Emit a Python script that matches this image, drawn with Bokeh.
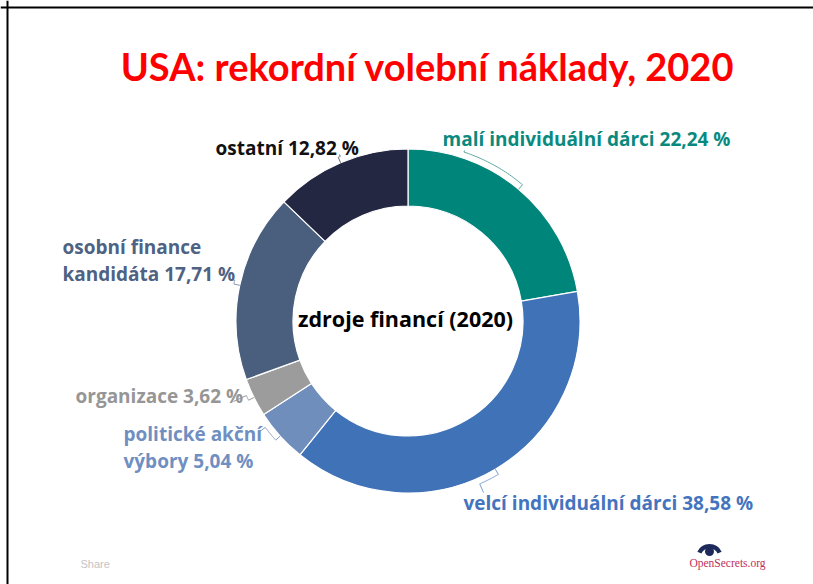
import numpy as np
from bokeh.plotting import figure
from bokeh.models import ColumnDataSource, Span, Range1d
from bokeh.core.properties import value
from bokeh.embed import file_html
from bokeh.resources import INLINE

# ---------------- data ----------------
title_text = "USA: rekordní volební náklady, 2020"
center_text = "zdroje financí (2020)"
categories = ["malí individuální dárci", "velcí individuální dárci", "politické akční výbory",
              "organizace", "osobní finance kandidáta", "ostatní"]
shares = [22.24, 38.58, 5.04, 3.62, 17.71, 12.82]
label_first_lines = ["", "", "politické akční", "", "osobní finance", ""]
label_last_prefix = ["malí individuální dárci", "velcí individuální dárci", "výbory",
                     "organizace", "kandidáta", "ostatní"]
seg_colors = ["#00857a", "#4072b8", "#6f8ebc", "#9c9c9c", "#4a5e7e", "#232742"]
lab_colors = ["#0a8a7e", "#4474be", "#6f8fc2", "#969696", "#4e6283", "#111111"]
lead_colors = ["#5fa8a0", "#7d9cc9", "#8a9cbc", "#9a9a9a", "#8a96aa", "#666a7a"]

# ---------------- layout ----------------
W, H = 813, 584
def X(px): return px
def Y(py): return H - py

cx, cy = X(407.5), Y(320.5)
r_in, r_out = 115, 172
lab_left = [442, 463, 123, 75, 62, 215]
lab_y = [138, 502, 460, 395, 273, 147]
line_gap = 27
attach = [(464, 150), (483, 492), (258, 432), (233, 401), (231, 279), (339, 154)]

fr = np.array(shares) / sum(shares)
ends = np.cumsum(fr)
starts = ends - fr
ang = lambda f: np.pi / 2 - 2 * np.pi * f
start_angle = ang(ends)
end_angle = ang(starts)
mid_angle = ang((starts + ends) / 2)

p = figure(width=W, height=H, x_range=Range1d(0, W), y_range=Range1d(0, H),
           output_backend="svg", toolbar_location=None, min_border=0)
p.axis.visible = False
p.grid.visible = False
p.outline_line_color = None
p.background_fill_color = "white"
p.border_fill_color = "white"

# frame (left + top)
p.add_layout(Span(location=7, dimension="height", line_color="black", line_width=2))
p.add_layout(Span(location=H - 7, dimension="width", line_color="black", line_width=2))

src = ColumnDataSource(dict(cat=categories, share=shares, color=seg_colors,
                            sa=start_angle, ea=end_angle))
p.annular_wedge(x=cx, y=cy, inner_radius=r_in, outer_radius=r_out, start_angle="sa",
                end_angle="ea", direction="anticlock", fill_color="color",
                line_color="white", line_width=1.2, source=src)

# leader lines
xs, ys = [], []
gap = 6
for i in range(len(shares)):
    ax, ay = X(attach[i][0]), Y(attach[i][1])
    a_lab = np.arctan2(ay - cy, ax - cx)
    a_mid = mid_angle[i]
    while a_mid - a_lab > np.pi: a_mid -= 2 * np.pi
    while a_lab - a_mid > np.pi: a_mid += 2 * np.pi
    arc = np.linspace(a_lab, a_mid, 30)
    rr = r_out + gap
    px_ = [ax] + list(cx + rr * np.cos(arc)) + [cx + r_out * np.cos(a_mid)]
    py_ = [ay] + list(cy + rr * np.sin(arc)) + [cy + r_out * np.sin(a_mid)]
    xs.append(px_); ys.append(py_)
p.multi_line(xs=xs, ys=ys, line_color=lead_colors, line_width=1)

# labels
tx, ty, tt, tc = [], [], [], []
for i in range(len(shares)):
    pct = f"{shares[i]:.2f}".replace(".", ",") + " %"
    last = label_last_prefix[i] + " " + pct
    if label_first_lines[i]:
        tx.append(X(lab_left[i])); ty.append(Y(lab_y[i] - line_gap))
        tt.append(label_first_lines[i]); tc.append(lab_colors[i])
    tx.append(X(lab_left[i])); ty.append(Y(lab_y[i])); tt.append(last); tc.append(lab_colors[i])
p.text(x=tx, y=ty, text=tt, text_color=tc, text_align="left", text_baseline="middle",
       text_font=value("Open Sans"), text_font_style="bold", text_font_size="19px")

# title and centre text
p.text(x=[X(427)], y=[Y(65)], text=[title_text], text_color="#ff0000", text_align="center",
       text_baseline="middle", text_font=value("Lato"),
       text_font_style="bold", text_font_size="38px")
p.text(x=[X(405)], y=[Y(318)], text=[center_text], text_color="#000000", text_align="center",
       text_baseline="middle", text_font=value("Open Sans"), text_font_style="bold",
       text_font_size="21.5px")

# footer
p.text(x=[X(80)], y=[Y(563)], text=["Share"], text_color="#c4c4c4", text_align="left",
       text_baseline="middle", text_font=value("Liberation Sans"), text_font_size="11px")
p.annular_wedge(x=[X(709)], y=[Y(557)], inner_radius=9, outer_radius=13.5,
                start_angle=0.45, end_angle=np.pi - 0.45, fill_color="#1f2a5c", line_color=None)
p.circle(x=[X(709)], y=[Y(551)], radius=4.5, fill_color="#1f2a5c", line_color=None)
p.text(x=[X(727)], y=[Y(562)], text=["OpenSecrets.org"], text_color="#c0305a", text_align="center",
       text_baseline="middle", text_font=value("Liberation Serif"), text_font_size="11.5px")

open("out.html", "w").write(file_html(p, INLINE))
